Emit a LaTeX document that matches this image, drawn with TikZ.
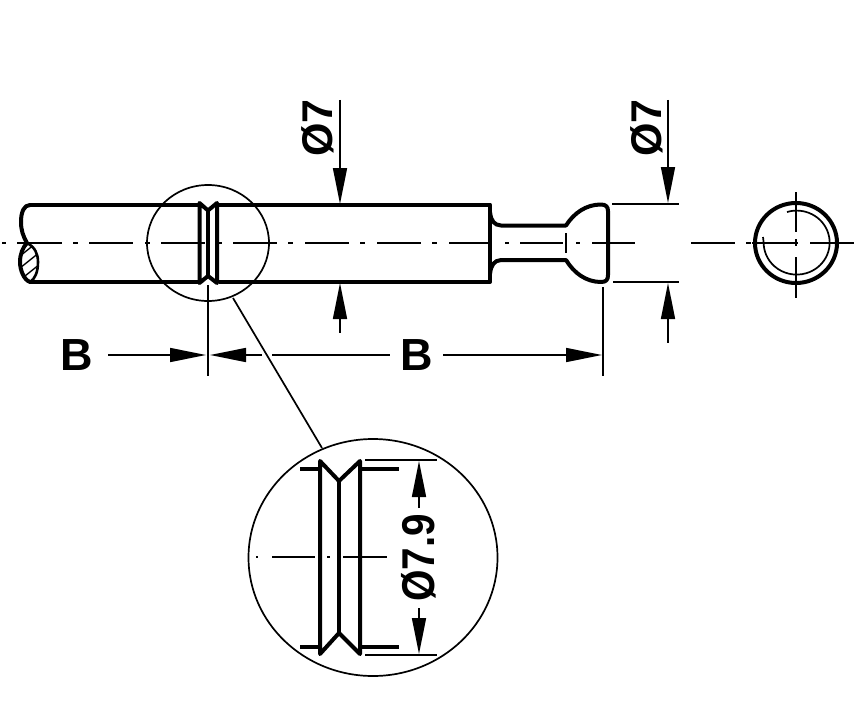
\documentclass[tikz,border=0pt]{standalone}
\usepackage{fontspec}
\setmainfont{Liberation Sans}
\usetikzlibrary{arrows.meta}
\tikzset{
  thick line/.style={line width=4pt,line join=round,line cap=round},
  thin line/.style={line width=1.7pt},
  center line/.style={line width=1.5pt},
  dim arrow/.style={line width=1.5pt,-{Triangle[length=36pt,width=14pt]}},
  rev arrow/.style={line width=1.5pt,{Triangle[length=36pt,width=14pt]}-},
  dim label/.style={font=\bfseries\fontsize{45}{45}\selectfont,inner sep=0pt},
  dia label/.style={font=\bfseries\fontsize{43}{43}\selectfont,inner sep=0pt,rotate=90},
}
\begin{document}
\begin{tikzpicture}[x=1pt,y=-1pt]
\useasboundingbox (0,0) rectangle (864,706);
% centre line, main view
\foreach \a/\b in {2/6,17/62,73/78,89/133,145/150,161/205,217/222,233/277,288/293,305/349,360/365,377/421,432/437,449/490,505/509,520/563,576/580,592/635,691/735,746/751,752/795,795/798,810/854}
  \draw[center line] (\a,243) -- (\b,243);
% section end
\begin{scope}
  \clip (27,243) .. controls (35,247) and (38,254) .. (38,262) .. controls (38,272) and (35,279) .. (30,282) .. controls (24,280) and (20,270) .. (20,262) .. controls (20,254) and (23,247) .. (27,243) -- cycle;
  \foreach \k in {0,1,2,3,4}
    \draw[line width=1.4pt] (10,{264+\k*12}) -- (45,{236+\k*12});
\end{scope}
\draw[line width=2.6pt] (27,243) .. controls (35,247) and (38,254) .. (38,262) .. controls (38,272) and (35,279) .. (30,282);
\draw[thick line] (30,282) .. controls (24,280) and (20,270) .. (20,262) .. controls (20,254) and (23,247) .. (27,243) .. controls (23,236) and (21,230) .. (21,222) .. controls (21,212) and (24,205) .. (30,205);
% shaft
\draw[thick line,line cap=butt] (29,204.5) -- (198,204.5);
\draw[thick line,line cap=butt] (29,282) -- (198,282);
\draw[thick line,line cap=butt] (219,204.5) -- (490,204.5) -- (490,282) -- (219,282);
% groove
\draw[thick line] (199.5,203) -- (199.5,283) -- (208,276) -- (217,283) -- (217,203) -- (208,210.5) -- cycle;
\draw[thick line] (208,210.5) -- (208,276);
% head
\draw[thick line] (490,212) .. controls (491,221) and (494,225) .. (501,225.5) -- (566,225.5) .. controls (574,213) and (586,204.5) .. (601,204.5) .. controls (606,204.5) and (608,207) .. (608,211) -- (608,275) .. controls (608,280) and (606,282) .. (601,282) .. controls (586,282) and (574,273) .. (566,260) -- (501,260) .. controls (494,260.5) and (491,265) .. (490,274);
\draw[thin line] (566,233) -- (566,253);
% end view
\draw[line width=4pt] (796,243) ellipse [x radius=41,y radius=40];
\draw[thin line] (787,212) arc[start angle=-107,end angle=180,x radius=33,y radius=32] -- (763,237);
\draw[thin line] (796,192) -- (796,232);
\draw[thin line] (796,239) -- (796,246);
\draw[thin line] (796,257) -- (796,298);
% magnifier circle, leader
\draw[thin line] (208,243) ellipse [x radius=61,y radius=58];
\draw[thin line] (233,298) -- (322,448);
% extension lines
\draw[thin line] (208,285) -- (208,376);
\draw[thin line] (603,287) -- (603,376);
\draw[thin line] (612,204) -- (679,204);
\draw[thin line] (613,282) -- (679,282);
% diameter dimensions
\draw[dim arrow] (340,100) -- (340,204);
\draw[rev arrow] (340,283) -- (340,333);
\draw[dim arrow] (668,100) -- (668,203);
\draw[rev arrow] (668,283) -- (668,343);
\node[dia label] (d1) at (318,128) {Ø7};
\node[dia label] (d2) at (647,128) {Ø7};
% B dimensions
\node[dim label] (b1) at (77,355) {B};
\node[dim label] (b2) at (417,355) {B};
\draw[dim arrow] (108,355) -- (206,355);
\draw[rev arrow] (210,355) -- (262,355);
\draw[center line] (272,355) -- (390,355);
\draw[dim arrow] (443,355) -- (602,355);
% detail
\draw[thin line] (373,557.5) ellipse [x radius=124.5,y radius=118.5];
\foreach \a/\b in {256/258,272/315,327/330,343/387}
  \draw[center line] (\a,557) -- (\b,557);
\draw[thick line,line cap=butt] (300,469) -- (320,469);
\draw[thick line,line cap=butt] (360,469) -- (399,469);
\draw[thick line,line cap=butt] (300,647) -- (320,647);
\draw[thick line,line cap=butt] (360,647) -- (399,647);
\draw[thick line,line cap=butt] (320,461) -- (320,654) -- (339,633) -- (360,654) -- (360,461) -- (339,481) -- cycle;
\draw[thick line,line cap=butt] (339,481) -- (339,633);
\draw[thin line] (365,460) -- (437,460);
\draw[thin line] (365,655) -- (437,655);
\draw[dim arrow] (419,508) -- (419,461);
\draw[dim arrow] (419,608) -- (419,654);
\node[dia label,font=\bfseries\fontsize{46}{46}\selectfont,xscale=0.88] (d3) at (419,558) {Ø7.9};
\end{tikzpicture}
\end{document}
